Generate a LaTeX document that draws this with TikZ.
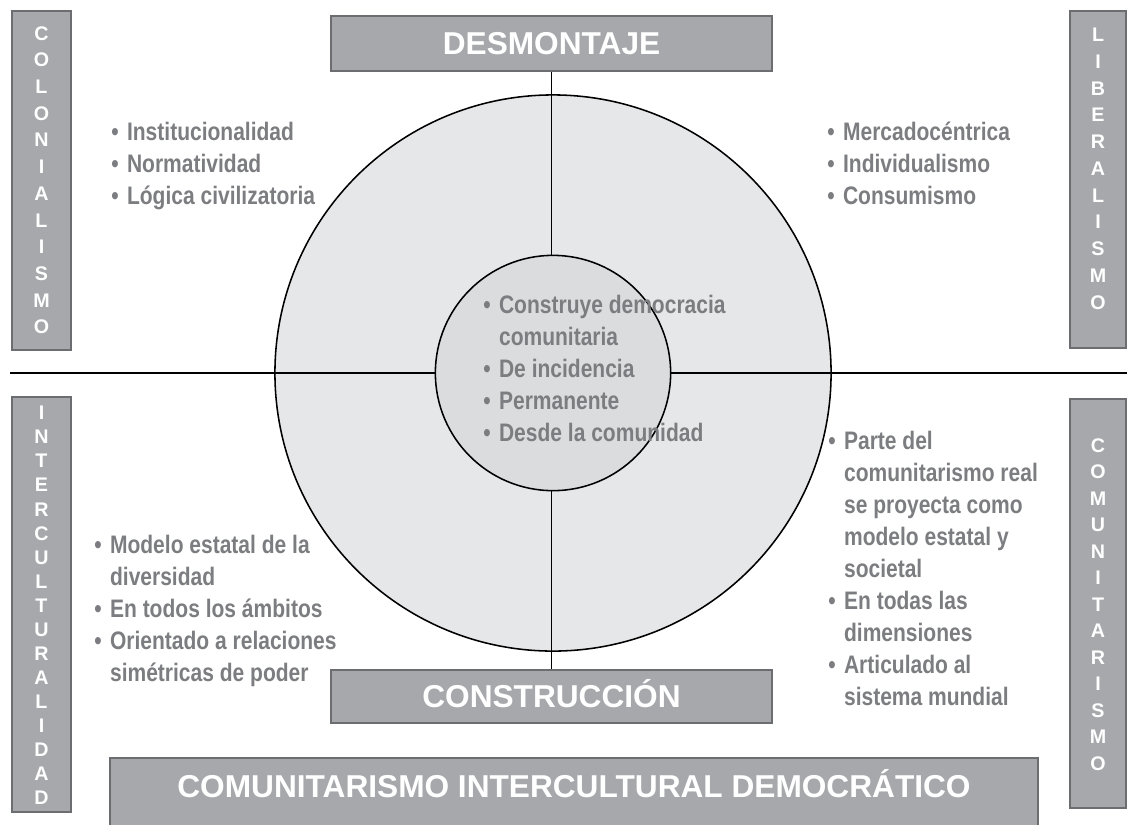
\documentclass[tikz,border=0pt]{standalone}
\usepackage{fontspec}
\setmainfont{Liberation Sans}
\newfontfamily\condfont[FakeStretch=0.83]{Liberation Sans}
\usepackage{tikz}

\definecolor{cajagris}{RGB}{167,168,172}
\definecolor{bordegris}{RGB}{108,109,112}
\definecolor{textogris}{RGB}{124,125,128}
\definecolor{circulogris}{RGB}{230,231,233}
\definecolor{nucleogris}{RGB}{219,220,222}

\begin{document}
\begin{tikzpicture}[x=0.025cm, y=-0.025cm,
    caja/.style={draw=bordegris, fill=cajagris, line width=1.4pt, inner sep=0pt},
    titulo/.style={text=white, font=\fontsize{22.5}{27}\selectfont\bfseries, text height=16.1pt, text depth=0pt},
    letras/.style={text=white, align=center, inner sep=0pt, anchor=north, font=\fontsize{14}{#1}\selectfont\bfseries},
    lista/.style={text=textogris, inner sep=0pt, anchor=base west, font=\condfont\fontsize{18}{22.76}\selectfont\bfseries}]
    \useasboundingbox (0,0) rectangle (1128,824);

    % Circunferencia grande
    \coordinate (centro) at (553,373);
    \draw[black, line width=1.1pt, fill=circulogris] (centro) circle (6.95cm);

    % Cajas
    \node[caja, minimum width=11.025cm, minimum height=1.375cm, titulo] (desmontaje) at (551.5,43.5) {DESMONTAJE};
    \node[caja, minimum width=11.025cm, minimum height=1.325cm, titulo] (construccion) at (551.5,696.5) {CONSTRUCCIÓN};
    \node[caja, minimum width=23.2cm, minimum height=1.9cm, anchor=north] (cid) at (574,757) {};
    \node[titulo, anchor=base, text height=, text depth=] (cidtexto) at (574,797) {COMUNITARISMO INTERCULTURAL DEMOCRÁTICO};

    % Cajas verticales
    \node[caja, minimum width=1.475cm, minimum height=8.475cm] (colonial) at (41.5,180.5) {};
    \node[caja, minimum width=1.4cm, minimum height=8.425cm] (liberal) at (1098,179.5) {};
    \node[caja, minimum width=1.475cm, minimum height=10.375cm] (intercult) at (41.5,604.5) {};
    \node[caja, minimum width=1.4cm, minimum height=10.225cm] (comunit) at (1098,603.5) {};
    \node[letras=19pt] (colonialtxt) at (41.5,26) {C\\O\\L\\O\\N\\I\\A\\L\\I\\S\\M\\O};
    \node[letras=19pt] (liberaltxt) at (1098,28) {L\\I\\B\\E\\R\\A\\L\\I\\S\\M\\O};
    \node[letras=17.1pt] (intercultxt) at (41.5,406) {I\\N\\T\\E\\R\\C\\U\\L\\T\\U\\R\\A\\L\\I\\D\\A\\D};
    \node[letras=18.85pt] (comunittxt) at (1098,438) {C\\O\\M\\U\\N\\I\\T\\A\\R\\I\\S\\M\\O};

    % Rectas
    \coordinate (izq) at (10,373);
    \coordinate (der) at (1127,373);
    \draw[black, line width=1.2pt] (izq) -- (der);
    \draw[black, line width=1.1pt] (desmontaje.south) -- (construccion.north);

    % Circunferencia interior
    \draw[black, line width=1.1pt, fill=nucleogris] (centro) circle (2.94cm);

    % Listas
    \node[lista] (colonialista) at (111,140) {\begin{tabular}[t]{@{}l@{\hspace{6pt}}l@{}}
        \textbullet & Institucionalidad\\
        \textbullet & Normatividad\\
        \textbullet & Lógica civilizatoria
    \end{tabular}};
    \node[lista] (liberalista) at (827,140) {\begin{tabular}[t]{@{}l@{\hspace{6pt}}l@{}}
        \textbullet & Mercadocéntrica\\
        \textbullet & Individualismo\\
        \textbullet & Consumismo
    \end{tabular}};
    \node[lista] (nucleolista) at (483,313) {\begin{tabular}[t]{@{}l@{\hspace{6pt}}l@{}}
        \textbullet & Construye democracia\\
        & comunitaria\\
        \textbullet & De incidencia\\
        \textbullet & Permanente\\
        \textbullet & Desde la comunidad
    \end{tabular}};
    \node[lista] (intercultlista) at (94,553) {\begin{tabular}[t]{@{}l@{\hspace{6pt}}l@{}}
        \textbullet & Modelo estatal de la\\
        & diversidad\\
        \textbullet & En todos los ámbitos\\
        \textbullet & Orientado a relaciones\\
        & simétricas de poder
    \end{tabular}};
    \node[lista] (comunitlista) at (828,449) {\begin{tabular}[t]{@{}l@{\hspace{6pt}}l@{}}
        \textbullet & Parte del\\
        & comunitarismo real\\
        & se proyecta como\\
        & modelo estatal y\\
        & societal\\
        \textbullet & En todas las\\
        & dimensiones\\
        \textbullet & Articulado al\\
        & sistema mundial
    \end{tabular}};
\end{tikzpicture}
\end{document}
